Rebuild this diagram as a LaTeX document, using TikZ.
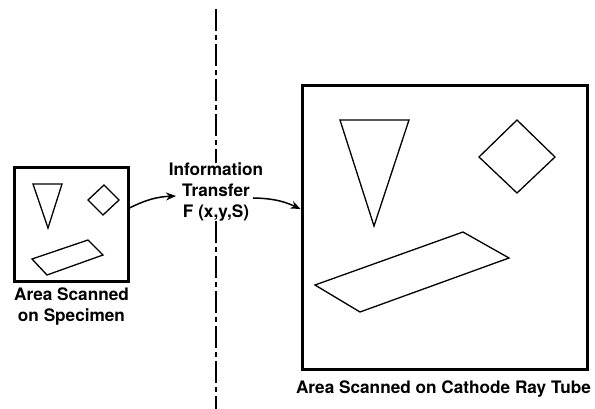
\documentclass[tikz,border=0pt]{standalone}
\usepackage{fontspec}
\setmainfont{TeX Gyre Heros}
\usetikzlibrary{arrows.meta}
\begin{document}
\begin{tikzpicture}[x=1pt,y=-1pt,
  frame/.style={draw,line width=3pt,inner sep=0pt},
  figure/.style={draw,line width=1.3pt,line join=miter},
  caption/.style={font=\fontsize{17.2}{21}\selectfont\bfseries,align=center,inner sep=0pt},
  transfer/.style={line width=1.5pt,-{Stealth[length=10pt,width=8pt]}},
  axis/.style={line width=1.5pt,dash pattern=on 22pt off 4pt on 5pt off 4pt}]
\useasboundingbox (0,0) rectangle (595,409);

% specimen area
\node[frame,minimum width=114pt,minimum height=113pt] (spec) at (71,224.5) {};
\draw[figure] (33,184) -- (62,184) -- (48,228) -- cycle;
\draw[figure] (88,200) -- (104,185) -- (119,200) -- (103,215) -- cycle;
\draw[figure] (32,259) -- (88,240) -- (103,255) -- (47,275) -- cycle;
\node[caption] (speclabel) at (71.5,307) {Area Scanned\\on Specimen};

% cathode ray tube area
\node[frame,minimum width=285pt,minimum height=283pt] (crt) at (444.5,227.5) {};
\draw[figure] (340,120) -- (409,120) -- (374,226) -- cycle;
\draw[figure] (479,157) -- (517,120) -- (555,157) -- (517,193) -- cycle;
\draw[figure] (315,285) -- (463,232) -- (509,258) -- (360,312) -- cycle;
\node[caption] (crtlabel) at (443.5,389) {Area Scanned on Cathode Ray Tube};

% dividing axis and transfer function
\node[caption] (info) at (216,192) {Information\\Transfer\\F (x,y,S)};
\coordinate (axtop) at (216,9);
\coordinate (axbot) at (216,409);
\draw[axis] (axtop) -- (info.north -| axtop);
\draw[axis] (info.south -| axbot) -- (axbot);

% transfer arrows
\coordinate (a1s) at (129.5,208);
\coordinate (a1e) at (176,196);
\coordinate (a2s) at (253,198);
\coordinate (a2e) at (300.5,209);
\draw[transfer] (a1s) to[bend left=12] (a1e);
\draw[transfer] (a2s) to[bend left=12] (a2e);
\end{tikzpicture}
\end{document}
